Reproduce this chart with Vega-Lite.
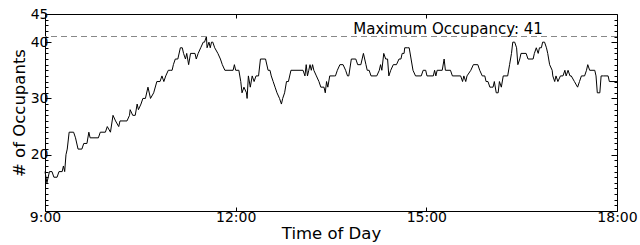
{
  "$schema": "https://vega.github.io/schema/vega-lite/v6.json",
  "width": 572,
  "height": 197,
  "autosize": {"type": "none"},
  "padding": {"left": 45, "top": 14, "right": 23, "bottom": 34},
  "config": {
    "font": "DejaVu Sans",
    "view": {"stroke": "#000", "strokeWidth": 1},
    "axis": {
      "domain": false,
      "grid": false,
      "labelFont": "DejaVu Sans",
      "titleFont": "DejaVu Sans",
      "labelColor": "#000",
      "titleColor": "#000",
      "tickColor": "#000",
      "labelFontSize": 14,
      "titleFontSize": 16.5,
      "titleFontWeight": "normal",
      "labelOverlap": false
    }
  },
  "datasets": {
    "occ": [
      {"time": 9.00, "occupancy": 17}, {"time": 9.03, "occupancy": 15}, {"time": 9.07, "occupancy": 17}, {"time": 9.11, "occupancy": 17},
      {"time": 9.14, "occupancy": 16}, {"time": 9.19, "occupancy": 16}, {"time": 9.22, "occupancy": 17}, {"time": 9.27, "occupancy": 17},
      {"time": 9.29, "occupancy": 18}, {"time": 9.31, "occupancy": 17}, {"time": 9.33, "occupancy": 20}, {"time": 9.35, "occupancy": 21},
      {"time": 9.38, "occupancy": 24}, {"time": 9.45, "occupancy": 24}, {"time": 9.48, "occupancy": 23}, {"time": 9.52, "occupancy": 21},
      {"time": 9.58, "occupancy": 21}, {"time": 9.61, "occupancy": 22}, {"time": 9.66, "occupancy": 22}, {"time": 9.69, "occupancy": 24},
      {"time": 9.71, "occupancy": 23}, {"time": 9.84, "occupancy": 23}, {"time": 9.87, "occupancy": 24}, {"time": 9.95, "occupancy": 24},
      {"time": 9.98, "occupancy": 25}, {"time": 10.03, "occupancy": 24}, {"time": 10.07, "occupancy": 27}, {"time": 10.11, "occupancy": 26},
      {"time": 10.16, "occupancy": 25}, {"time": 10.18, "occupancy": 26}, {"time": 10.29, "occupancy": 26}, {"time": 10.33, "occupancy": 27},
      {"time": 10.34, "occupancy": 28}, {"time": 10.38, "occupancy": 27}, {"time": 10.42, "occupancy": 27}, {"time": 10.45, "occupancy": 29},
      {"time": 10.47, "occupancy": 28}, {"time": 10.51, "occupancy": 29}, {"time": 10.54, "occupancy": 30}, {"time": 10.58, "occupancy": 30},
      {"time": 10.62, "occupancy": 32}, {"time": 10.66, "occupancy": 30}, {"time": 10.71, "occupancy": 31}, {"time": 10.76, "occupancy": 33},
      {"time": 10.81, "occupancy": 33}, {"time": 10.84, "occupancy": 34}, {"time": 10.87, "occupancy": 33}, {"time": 10.90, "occupancy": 34},
      {"time": 10.94, "occupancy": 35}, {"time": 10.97, "occupancy": 35}, {"time": 11.00, "occupancy": 35}, {"time": 11.02, "occupancy": 36},
      {"time": 11.05, "occupancy": 37}, {"time": 11.09, "occupancy": 37}, {"time": 11.13, "occupancy": 39}, {"time": 11.16, "occupancy": 39},
      {"time": 11.18, "occupancy": 38}, {"time": 11.21, "occupancy": 37}, {"time": 11.23, "occupancy": 38}, {"time": 11.26, "occupancy": 36},
      {"time": 11.29, "occupancy": 38}, {"time": 11.36, "occupancy": 38}, {"time": 11.38, "occupancy": 37}, {"time": 11.41, "occupancy": 38},
      {"time": 11.45, "occupancy": 39}, {"time": 11.49, "occupancy": 40}, {"time": 11.51, "occupancy": 40}, {"time": 11.54, "occupancy": 41},
      {"time": 11.55, "occupancy": 39}, {"time": 11.58, "occupancy": 40}, {"time": 11.60, "occupancy": 39}, {"time": 11.62, "occupancy": 40},
      {"time": 11.64, "occupancy": 40}, {"time": 11.67, "occupancy": 39}, {"time": 11.72, "occupancy": 38}, {"time": 11.76, "occupancy": 37},
      {"time": 11.79, "occupancy": 36}, {"time": 11.83, "occupancy": 35}, {"time": 11.96, "occupancy": 35}, {"time": 11.98, "occupancy": 36},
      {"time": 12.00, "occupancy": 35}, {"time": 12.05, "occupancy": 35}, {"time": 12.08, "occupancy": 33}, {"time": 12.10, "occupancy": 31},
      {"time": 12.13, "occupancy": 32}, {"time": 12.17, "occupancy": 31}, {"time": 12.18, "occupancy": 30}, {"time": 12.20, "occupancy": 34},
      {"time": 12.23, "occupancy": 32}, {"time": 12.26, "occupancy": 34}, {"time": 12.29, "occupancy": 33}, {"time": 12.32, "occupancy": 34},
      {"time": 12.36, "occupancy": 34}, {"time": 12.39, "occupancy": 37}, {"time": 12.47, "occupancy": 37}, {"time": 12.51, "occupancy": 35},
      {"time": 12.54, "occupancy": 35}, {"time": 12.56, "occupancy": 34}, {"time": 12.59, "occupancy": 33}, {"time": 12.62, "occupancy": 32},
      {"time": 12.65, "occupancy": 31}, {"time": 12.69, "occupancy": 30}, {"time": 12.72, "occupancy": 29}, {"time": 12.74, "occupancy": 30},
      {"time": 12.77, "occupancy": 31}, {"time": 12.80, "occupancy": 33}, {"time": 12.83, "occupancy": 33}, {"time": 12.87, "occupancy": 35},
      {"time": 13.06, "occupancy": 35}, {"time": 13.09, "occupancy": 34}, {"time": 13.11, "occupancy": 36}, {"time": 13.13, "occupancy": 34},
      {"time": 13.15, "occupancy": 35}, {"time": 13.17, "occupancy": 36}, {"time": 13.19, "occupancy": 35}, {"time": 13.21, "occupancy": 36},
      {"time": 13.23, "occupancy": 35}, {"time": 13.27, "occupancy": 34}, {"time": 13.31, "occupancy": 33}, {"time": 13.34, "occupancy": 32},
      {"time": 13.39, "occupancy": 32}, {"time": 13.41, "occupancy": 31}, {"time": 13.43, "occupancy": 33}, {"time": 13.45, "occupancy": 32},
      {"time": 13.48, "occupancy": 34}, {"time": 13.55, "occupancy": 34}, {"time": 13.57, "occupancy": 34}, {"time": 13.60, "occupancy": 35},
      {"time": 13.64, "occupancy": 36}, {"time": 13.69, "occupancy": 36}, {"time": 13.73, "occupancy": 35}, {"time": 13.76, "occupancy": 34},
      {"time": 13.78, "occupancy": 34}, {"time": 13.82, "occupancy": 37}, {"time": 13.89, "occupancy": 37}, {"time": 13.92, "occupancy": 36},
      {"time": 13.97, "occupancy": 36}, {"time": 14.01, "occupancy": 38}, {"time": 14.05, "occupancy": 36}, {"time": 14.07, "occupancy": 35},
      {"time": 14.10, "occupancy": 35}, {"time": 14.13, "occupancy": 34}, {"time": 14.22, "occupancy": 34}, {"time": 14.26, "occupancy": 35},
      {"time": 14.28, "occupancy": 36}, {"time": 14.30, "occupancy": 35}, {"time": 14.33, "occupancy": 38}, {"time": 14.36, "occupancy": 37},
      {"time": 14.39, "occupancy": 37}, {"time": 14.41, "occupancy": 34}, {"time": 14.44, "occupancy": 35}, {"time": 14.48, "occupancy": 36},
      {"time": 14.53, "occupancy": 36}, {"time": 14.57, "occupancy": 37}, {"time": 14.60, "occupancy": 37}, {"time": 14.62, "occupancy": 38},
      {"time": 14.65, "occupancy": 38}, {"time": 14.66, "occupancy": 39}, {"time": 14.70, "occupancy": 39}, {"time": 14.73, "occupancy": 39},
      {"time": 14.76, "occupancy": 37}, {"time": 14.79, "occupancy": 35}, {"time": 14.83, "occupancy": 34}, {"time": 14.92, "occupancy": 34},
      {"time": 14.95, "occupancy": 35}, {"time": 14.99, "occupancy": 35}, {"time": 15.01, "occupancy": 34}, {"time": 15.11, "occupancy": 34},
      {"time": 15.13, "occupancy": 35}, {"time": 15.15, "occupancy": 34}, {"time": 15.17, "occupancy": 35}, {"time": 15.25, "occupancy": 35},
      {"time": 15.28, "occupancy": 37}, {"time": 15.30, "occupancy": 35}, {"time": 15.38, "occupancy": 35}, {"time": 15.41, "occupancy": 34},
      {"time": 15.54, "occupancy": 34}, {"time": 15.57, "occupancy": 33}, {"time": 15.59, "occupancy": 34}, {"time": 15.62, "occupancy": 33},
      {"time": 15.64, "occupancy": 34}, {"time": 15.70, "occupancy": 35}, {"time": 15.74, "occupancy": 36}, {"time": 15.81, "occupancy": 36},
      {"time": 15.84, "occupancy": 35}, {"time": 15.88, "occupancy": 34}, {"time": 15.92, "occupancy": 34}, {"time": 15.94, "occupancy": 33},
      {"time": 15.97, "occupancy": 33}, {"time": 16.00, "occupancy": 32}, {"time": 16.02, "occupancy": 32}, {"time": 16.05, "occupancy": 32},
      {"time": 16.07, "occupancy": 33}, {"time": 16.10, "occupancy": 31}, {"time": 16.13, "occupancy": 31}, {"time": 16.15, "occupancy": 33},
      {"time": 16.18, "occupancy": 32}, {"time": 16.21, "occupancy": 34}, {"time": 16.28, "occupancy": 34}, {"time": 16.31, "occupancy": 36},
      {"time": 16.34, "occupancy": 38}, {"time": 16.36, "occupancy": 40}, {"time": 16.39, "occupancy": 40}, {"time": 16.42, "occupancy": 39},
      {"time": 16.44, "occupancy": 36}, {"time": 16.47, "occupancy": 37}, {"time": 16.49, "occupancy": 38}, {"time": 16.57, "occupancy": 38},
      {"time": 16.60, "occupancy": 37}, {"time": 16.68, "occupancy": 37}, {"time": 16.70, "occupancy": 38}, {"time": 16.73, "occupancy": 39},
      {"time": 16.76, "occupancy": 38}, {"time": 16.78, "occupancy": 39}, {"time": 16.81, "occupancy": 39}, {"time": 16.83, "occupancy": 40},
      {"time": 16.86, "occupancy": 40}, {"time": 16.89, "occupancy": 39}, {"time": 16.91, "occupancy": 38}, {"time": 16.94, "occupancy": 36},
      {"time": 16.98, "occupancy": 35}, {"time": 16.99, "occupancy": 34}, {"time": 17.02, "occupancy": 33}, {"time": 17.04, "occupancy": 34},
      {"time": 17.07, "occupancy": 33}, {"time": 17.11, "occupancy": 34}, {"time": 17.15, "occupancy": 34}, {"time": 17.18, "occupancy": 35},
      {"time": 17.20, "occupancy": 34}, {"time": 17.23, "occupancy": 35}, {"time": 17.26, "occupancy": 34}, {"time": 17.28, "occupancy": 34},
      {"time": 17.33, "occupancy": 33}, {"time": 17.38, "occupancy": 32}, {"time": 17.41, "occupancy": 33}, {"time": 17.44, "occupancy": 34},
      {"time": 17.49, "occupancy": 34}, {"time": 17.52, "occupancy": 35}, {"time": 17.54, "occupancy": 36}, {"time": 17.57, "occupancy": 35},
      {"time": 17.65, "occupancy": 35}, {"time": 17.67, "occupancy": 34}, {"time": 17.69, "occupancy": 31}, {"time": 17.73, "occupancy": 31},
      {"time": 17.75, "occupancy": 34}, {"time": 17.79, "occupancy": 34}, {"time": 17.86, "occupancy": 34}, {"time": 17.88, "occupancy": 33},
      {"time": 18.00, "occupancy": 33}
    ],
    "note": [{"label": "Maximum Occupancy: 41"}]
  },
  "layer": [
    {
      "data": {"name": "occ"},
      "mark": {"type": "line", "color": "#000", "strokeWidth": 1},
      "encoding": {
        "x": {
          "field": "time", "type": "quantitative",
          "scale": {"domain": [9, 18], "nice": false, "zero": false},
          "axis": {
            "orient": "bottom", "values": [9, 12, 15, 18],
            "labelExpr": "datum.value + ':00'",
            "tickSize": -4, "labelPadding": 3, "labelFlush": false,
            "title": "Time of Day", "titlePadding": 1
          }
        },
        "y": {
          "field": "occupancy", "type": "quantitative",
          "scale": {"domain": [10, 45], "nice": false, "zero": false},
          "axis": {
            "orient": "left",
            "values": [10,11,12,13,14,15,16,17,18,19,20,21,22,23,24,25,26,27,28,29,30,31,32,33,34,35,36,37,38,39,40,41,42,43,44,45],
            "labelExpr": "indexof([20,30,40,45], datum.value) >= 0 ? datum.label : ''",
            "tickSize": {"condition": {"test": "indexof([20,30,40,45], datum.value) >= 0", "value": -6}, "value": -3},
            "labelPadding": 3,
            "title": "# of Occupants", "titlePadding": 3
          }
        }
      }
    },
    {
      "data": {"name": "occ"},
      "mark": {"type": "rule", "color": "#888", "strokeDash": [6, 4], "strokeWidth": 1},
      "encoding": {
        "y": {"aggregate": "max", "field": "occupancy", "type": "quantitative", "axis": null}
      }
    },
    {
      "data": {"name": "note"},
      "mark": {"type": "text", "align": "left", "baseline": "alphabetic", "dy": -3, "fontSize": 15, "color": "#000", "font": "DejaVu Sans"},
      "encoding": {
        "x": {"datum": 13.85, "type": "quantitative", "axis": null},
        "y": {"datum": 41, "type": "quantitative", "axis": null},
        "text": {"field": "label"}
      }
    },
    {
      "data": {"name": "occ"},
      "mark": {"type": "line", "strokeOpacity": 0},
      "encoding": {
        "x": {
          "field": "time", "type": "quantitative",
          "axis": {"orient": "top", "values": [12, 15], "labels": false, "tickSize": -4, "title": null}
        },
        "y": {
          "field": "occupancy", "type": "quantitative",
          "axis": {
            "orient": "right",
            "values": [10,11,12,13,14,15,16,17,18,19,20,21,22,23,24,25,26,27,28,29,30,31,32,33,34,35,36,37,38,39,40,41,42,43,44,45],
            "labels": false,
            "tickSize": {"condition": {"test": "indexof([20,30,40,45], datum.value) >= 0", "value": -6}, "value": -3},
            "title": null
          }
        }
      }
    }
  ],
  "resolve": {"axis": {"x": "independent", "y": "independent"}}
}
